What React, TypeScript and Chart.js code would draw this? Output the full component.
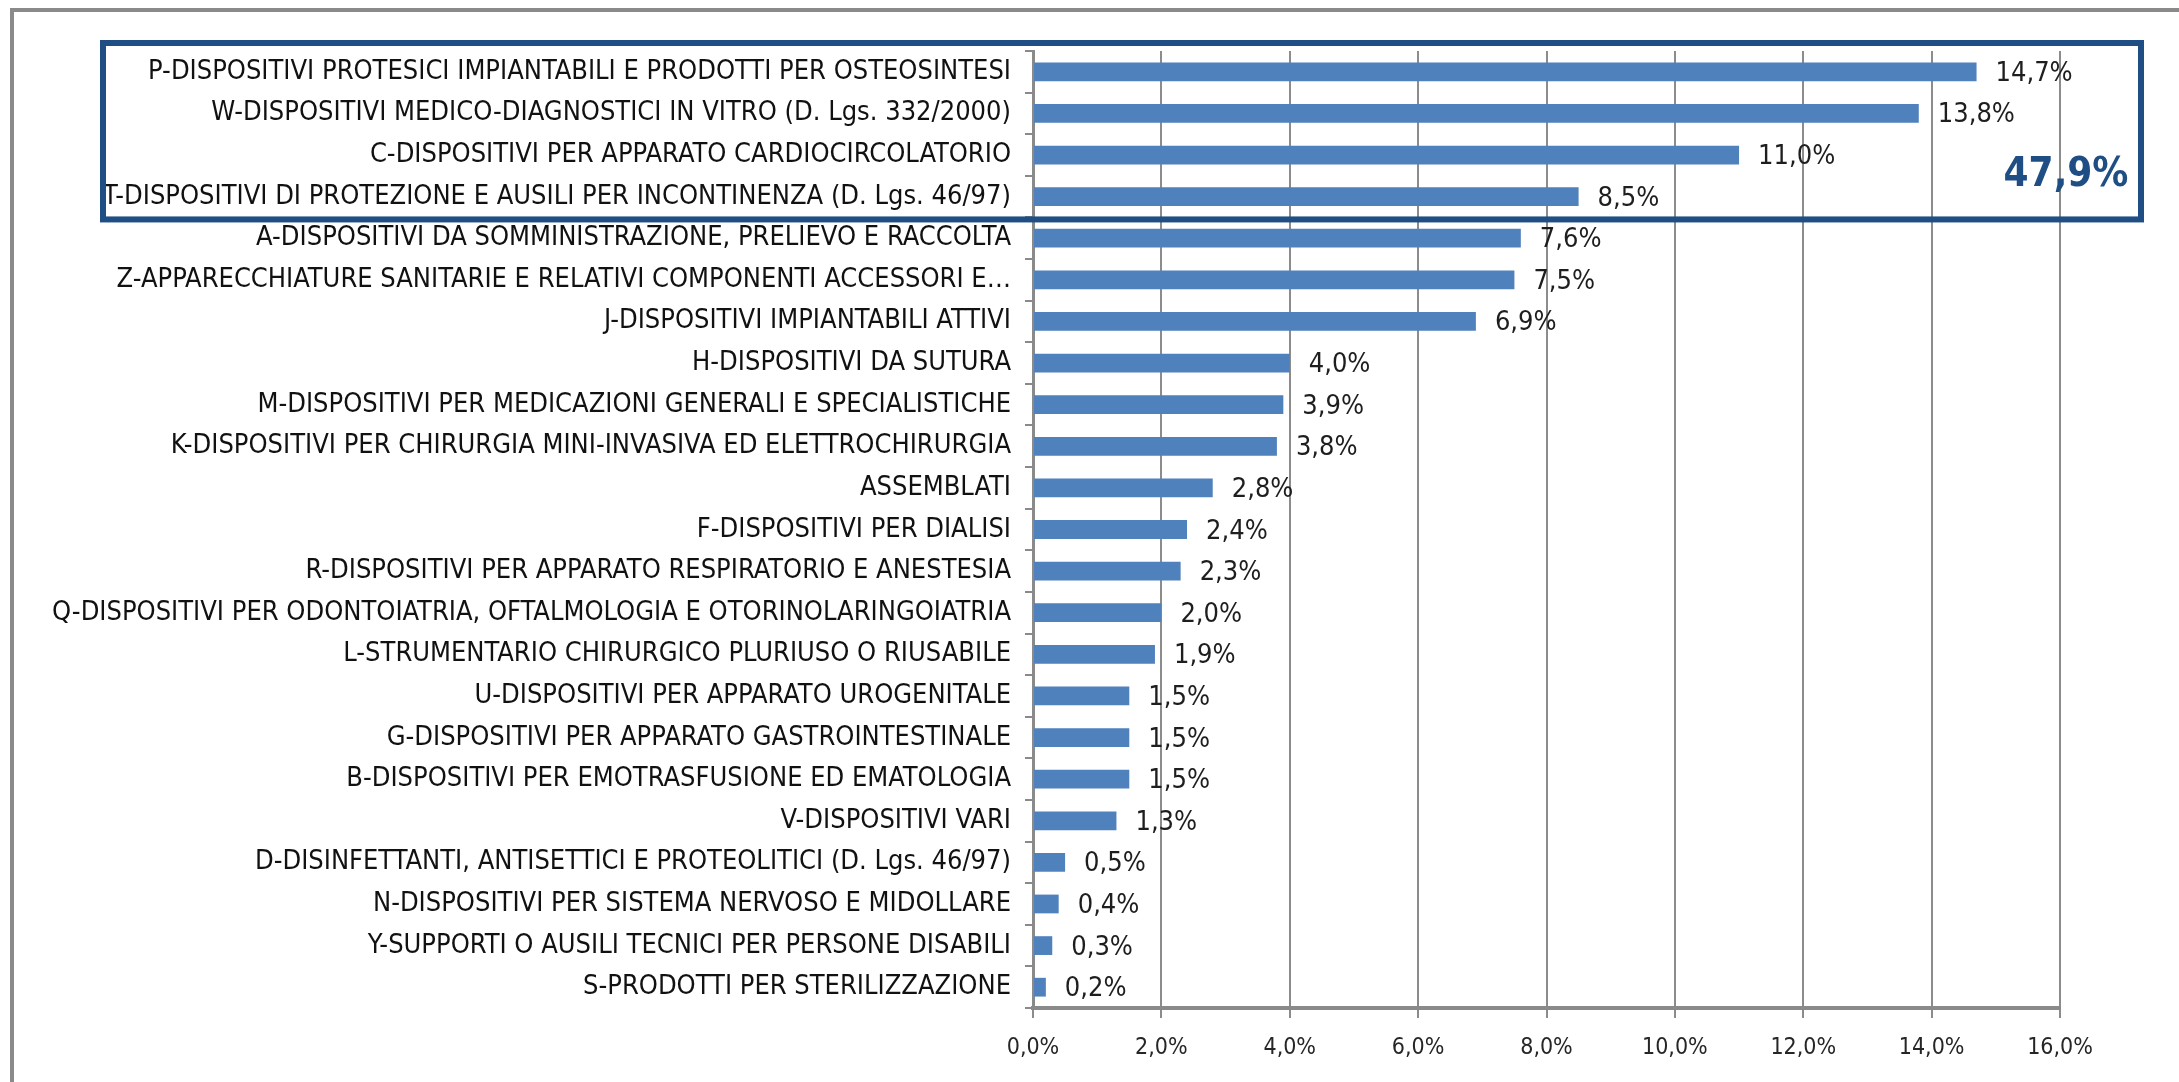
import React, { useEffect, useRef } from "react";
import { Chart, registerables } from "chart.js";

Chart.register(...registerables);

const categories: string[] = [
  "P-DISPOSITIVI PROTESICI IMPIANTABILI E PRODOTTI PER OSTEOSINTESI",
  "W-DISPOSITIVI MEDICO-DIAGNOSTICI IN VITRO (D. Lgs. 332/2000)",
  "C-DISPOSITIVI PER APPARATO CARDIOCIRCOLATORIO",
  "T-DISPOSITIVI DI PROTEZIONE E AUSILI PER INCONTINENZA (D. Lgs. 46/97)",
  "A-DISPOSITIVI DA SOMMINISTRAZIONE, PRELIEVO E RACCOLTA",
  "Z-APPARECCHIATURE SANITARIE E RELATIVI COMPONENTI ACCESSORI E…",
  "J-DISPOSITIVI IMPIANTABILI ATTIVI",
  "H-DISPOSITIVI DA SUTURA",
  "M-DISPOSITIVI PER MEDICAZIONI GENERALI E SPECIALISTICHE",
  "K-DISPOSITIVI PER CHIRURGIA MINI-INVASIVA ED ELETTROCHIRURGIA",
  "ASSEMBLATI",
  "F-DISPOSITIVI PER DIALISI",
  "R-DISPOSITIVI PER APPARATO RESPIRATORIO E ANESTESIA",
  "Q-DISPOSITIVI PER ODONTOIATRIA, OFTALMOLOGIA E OTORINOLARINGOIATRIA",
  "L-STRUMENTARIO CHIRURGICO PLURIUSO O RIUSABILE",
  "U-DISPOSITIVI PER APPARATO UROGENITALE",
  "G-DISPOSITIVI PER APPARATO GASTROINTESTINALE",
  "B-DISPOSITIVI PER EMOTRASFUSIONE ED EMATOLOGIA",
  "V-DISPOSITIVI VARI",
  "D-DISINFETTANTI, ANTISETTICI E PROTEOLITICI (D. Lgs. 46/97)",
  "N-DISPOSITIVI PER SISTEMA NERVOSO E MIDOLLARE",
  "Y-SUPPORTI O AUSILI TECNICI PER PERSONE DISABILI",
  "S-PRODOTTI PER STERILIZZAZIONE",
];

const shares: number[] = [
  14.7, 13.8, 11.0, 8.5, 7.6, 7.5, 6.9, 4.0, 3.9, 3.8, 2.8, 2.4, 2.3, 2.0,
  1.9, 1.5, 1.5, 1.5, 1.3, 0.5, 0.4, 0.3, 0.2,
];

const xTicks: number[] = [0, 2, 4, 6, 8, 10, 12, 14, 16];

const highlightCount = 4;
const highlightTotal = 47.9;

const FONT = "'Liberation Sans Narrow', 'DejaVu Sans Condensed', 'Arial Narrow', sans-serif";
const W = 2179;
const H = 1082;

const fmt = (v: number) => v.toFixed(1).replace(".", ",") + "%";

export default function App() {
  const ref = useRef<HTMLCanvasElement | null>(null);

  useEffect(() => {
    const canvas = ref.current;
    if (!canvas) return;

    const framePlugin = {
      id: "frame",
      beforeDraw(chart: any) {
        const ctx = chart.ctx;
        ctx.save();
        ctx.fillStyle = "#ffffff";
        ctx.fillRect(0, 0, W, H);
        ctx.fillStyle = "#8a8a8a";
        ctx.fillRect(10, 8, W - 10, 4);
        ctx.fillRect(10, 8, 4, H - 8);
        ctx.restore();
      },
    };

    const labelPlugin = {
      id: "valueLabels",
      afterDatasetsDraw(chart: any) {
        const ctx = chart.ctx;
        const meta = chart.getDatasetMeta(0);
        ctx.save();
        ctx.font = `27px ${FONT}`;
        ctx.fillStyle = "#1e1e1e";
        ctx.textAlign = "left";
        ctx.textBaseline = "middle";
        meta.data.forEach((bar: any, i: number) => {
          ctx.fillText(fmt(shares[i]), bar.x + 19, bar.y + 2);
        });
        ctx.restore();
      },
      afterDraw(chart: any) {
        const ctx = chart.ctx;
        const y = chart.scales.y;
        const area = chart.chartArea;
        const top = area.top - 8;
        const bottom = y.getPixelForValue(highlightCount - 0.5) + 2;
        const left = 103;
        const right = area.right + 81;
        ctx.save();
        ctx.strokeStyle = "#1F4E85";
        ctx.lineWidth = 6;
        ctx.strokeRect(left, top, right - left, bottom - top);
        ctx.font = `bold 40px ${FONT}`;
        ctx.fillStyle = "#1F4E85";
        ctx.textAlign = "center";
        ctx.textBaseline = "middle";
        ctx.fillText(fmt(highlightTotal), area.right + 6, y.getPixelForValue(2.5));
        ctx.restore();
      },
    };

    const chart = new Chart(canvas, {
      type: "bar",
      data: {
        labels: categories,
        datasets: [
          {
            data: shares,
            backgroundColor: "#4F81BD",
            borderWidth: 0,
            barPercentage: 0.92,
            categoryPercentage: 0.49,
          },
        ],
      },
      options: {
        indexAxis: "y",
        responsive: false,
        animation: false,
        devicePixelRatio: 1,
        layout: { padding: { top: 51, right: 119, bottom: 0, left: 0 } },
        plugins: {
          legend: { display: false },
          tooltip: { enabled: false },
        },
        scales: {
          x: {
            min: 0,
            max: 16,
            afterBuildTicks: (scale: any) => {
              scale.ticks = xTicks.map((v) => ({ value: v }));
            },
            afterFit: (scale: any) => {
              scale.height = 74;
            },
            ticks: {
              callback: (v: any) => fmt(Number(v)),
              font: { family: FONT, size: 23 },
              color: "#262626",
              padding: 16,
            },
            grid: {
              color: "#8c8c8c",
              lineWidth: 2,
              tickLength: 10,
              drawTicks: true,
            },
            border: { color: "#8a8a8a", width: 4 },
          },
          y: {
            afterFit: (scale: any) => {
              scale.width = 1033;
            },
            ticks: {
              font: { family: FONT, size: 27 },
              color: "#111111",
              padding: 14,
              autoSkip: false,
            },
            grid: {
              drawOnChartArea: false,
              drawTicks: true,
              tickLength: 8,
              color: "#8a8a8a",
              lineWidth: 2,
            },
            border: { color: "#8a8a8a", width: 3 },
          },
        },
      },
      plugins: [framePlugin, labelPlugin],
    });

    return () => chart.destroy();
  }, []);

  return (
    <div style={{ position: "fixed", left: 0, top: 0, width: W, height: H, background: "#fff" }}>
      <canvas ref={ref} width={W} height={H} style={{ width: W, height: H, display: "block" }} />
    </div>
  );
}
